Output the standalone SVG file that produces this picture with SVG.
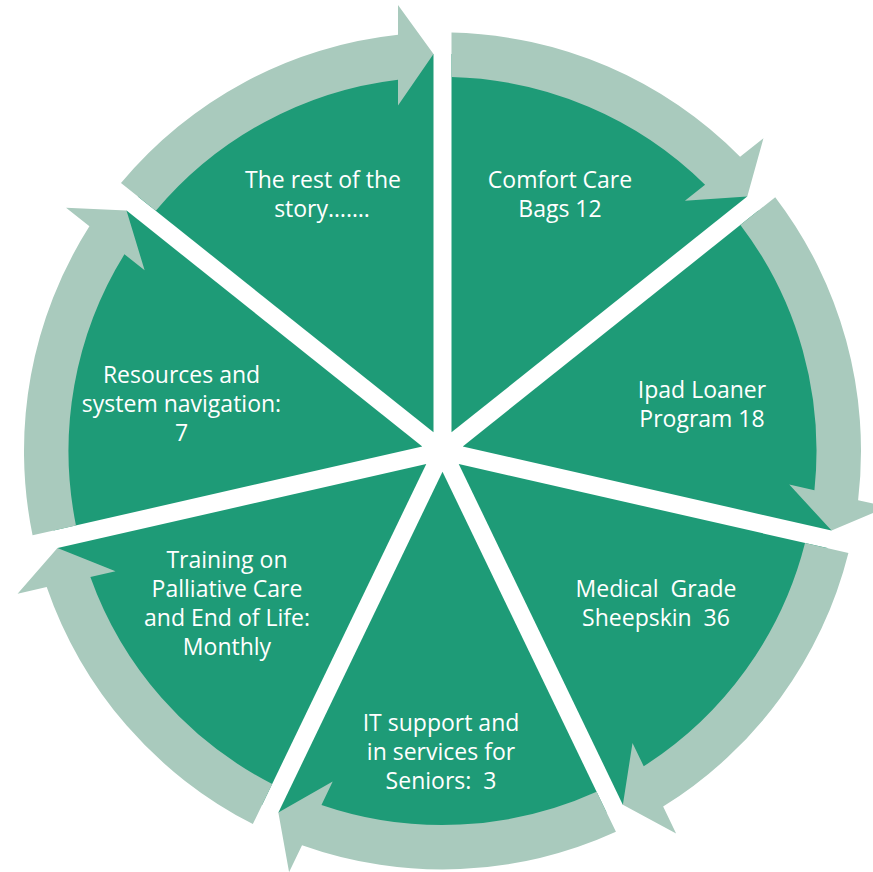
<svg xmlns="http://www.w3.org/2000/svg" xmlns:xlink="http://www.w3.org/1999/xlink" width="873" height="872" viewBox="0 0 873 872">
  <style>
    .wedge { fill: #1e9b77; }
    .arc { fill: #a9cabd; }
    .label { font-family: "Open Sans", "Liberation Sans", sans-serif; font-size: 23px; fill: #ffffff; text-anchor: middle; white-space: pre; }
  </style>
  <defs>
    <!-- one pie segment spanning -90deg to -38.57deg, centred on the origin, 9px clear of each boundary -->
    <path id="wedge" class="wedge" d="M 9.003 -18.695 L 9 -396.898 A 397 397 0 0 1 304.70 -254.50 Z"/>
    <!-- curved arrow riding the rim of that segment, head pointing clockwise -->
    <path id="arrow" class="arc" d="M 9 -418.403 A 418.5 418.5 0 0 1 297.60 -294.24 L 320.95 -312.87 L 304.78 -254.57 L 242.38 -250.21 L 262.58 -266.32 A 374 374 0 0 0 9 -373.892 Z"/>
  </defs>

  <g id="seg-comfort-care">
    <use xlink:href="#wedge" transform="translate(442.5,451) rotate(0)"/>
    <text class="label" x="560" y="188">Comfort Care</text>
    <text class="label" x="560" y="217">Bags 12</text>
  </g>
  <g id="seg-ipad-loaner">
    <use xlink:href="#wedge" transform="translate(442.5,451) rotate(51.428571)"/>
    <text class="label" x="702" y="398">Ipad Loaner</text>
    <text class="label" x="702" y="427">Program 18</text>
  </g>
  <g id="seg-sheepskin">
    <use xlink:href="#wedge" transform="translate(442.5,451) rotate(102.857143)"/>
    <text class="label" x="656" y="597">Medical  Grade</text>
    <text class="label" x="656" y="626">Sheepskin  36</text>
  </g>
  <g id="seg-it-support">
    <use xlink:href="#wedge" transform="translate(442.5,451) rotate(154.285714)"/>
    <text class="label" x="441" y="731">IT support and</text>
    <text class="label" x="441" y="760">in services for</text>
    <text class="label" x="441" y="789">Seniors:  3</text>
  </g>
  <g id="seg-training">
    <use xlink:href="#wedge" transform="translate(442.5,451) rotate(205.714286)"/>
    <text class="label" x="227" y="568">Training on</text>
    <text class="label" x="227" y="597">Palliative Care</text>
    <text class="label" x="227" y="626">and End of Life:</text>
    <text class="label" x="227" y="655">Monthly</text>
  </g>
  <g id="seg-resources">
    <use xlink:href="#wedge" transform="translate(442.5,451) rotate(257.142857)"/>
    <text class="label" x="181.5" y="383">Resources and</text>
    <text class="label" x="181.5" y="412">system navigation:</text>
    <text class="label" x="181.5" y="441">7</text>
  </g>
  <g id="seg-rest-of-story">
    <use xlink:href="#wedge" transform="translate(442.5,451) rotate(308.571429)"/>
    <text class="label" x="323" y="188">The rest of the</text>
    <text class="label" x="322" y="217">story…….</text>
  </g>

  <g id="connectors">
    <use xlink:href="#arrow" transform="translate(442.5,451) rotate(0)"/>
    <use xlink:href="#arrow" transform="translate(442.5,451) rotate(51.428571)"/>
    <use xlink:href="#arrow" transform="translate(442.5,451) rotate(102.857143)"/>
    <use xlink:href="#arrow" transform="translate(442.5,451) rotate(154.285714)"/>
    <use xlink:href="#arrow" transform="translate(442.5,451) rotate(205.714286)"/>
    <use xlink:href="#arrow" transform="translate(442.5,451) rotate(257.142857)"/>
    <use xlink:href="#arrow" transform="translate(442.5,451) rotate(308.571429)"/>
  </g>
</svg>
